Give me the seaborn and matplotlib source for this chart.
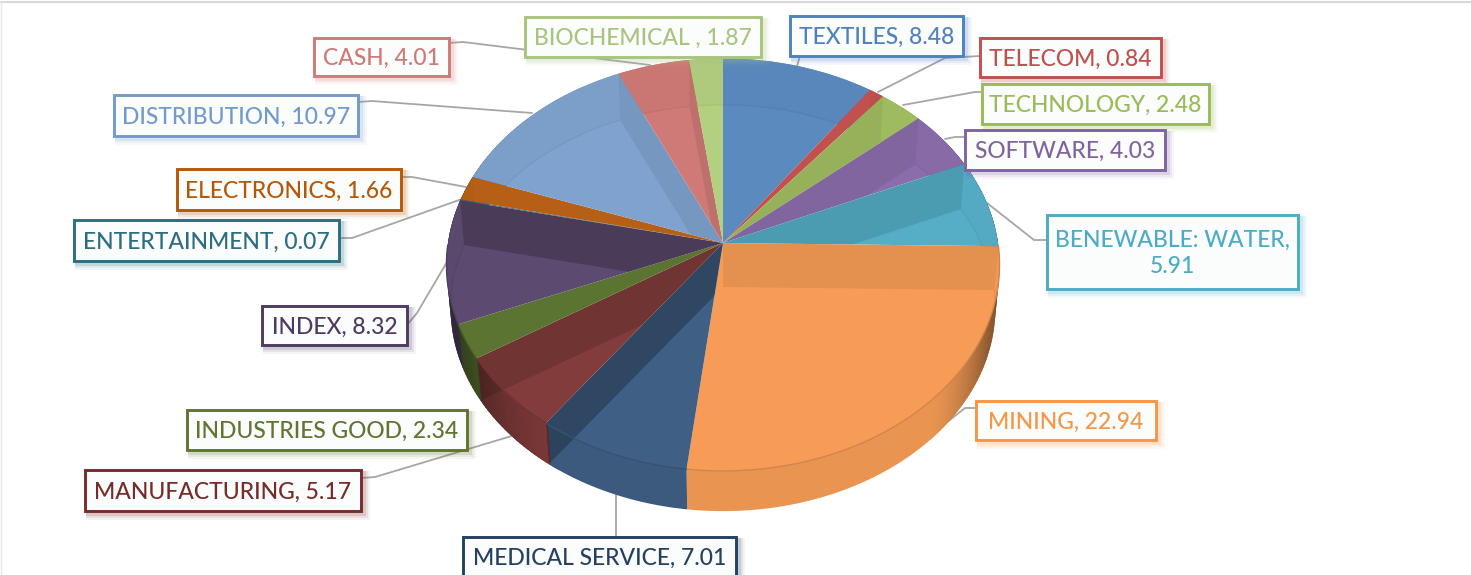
import numpy as np
import matplotlib
matplotlib.use('Agg')
from matplotlib import pyplot as plt
from matplotlib import transforms as mtrans
from matplotlib.patches import Rectangle
import seaborn as sns

# data, clockwise from 12 o'clock
sectors = ['TEXTILES', 'TELECOM', 'TECHNOLOGY', 'SOFTWARE', 'BENEWABLE: WATER',
           'MINING', 'MEDICAL SERVICE', 'MANUFACTURING', 'INDUSTRIES GOOD', 'INDEX',
           'ENTERTAINMENT', 'ELECTRONICS', 'DISTRIBUTION', 'CASH', 'BIOCHEMICAL ']
shares = [8.48, 0.84, 2.48, 4.03, 5.91, 22.94, 7.01, 5.17, 2.34, 8.32, 0.07, 1.66, 10.97, 4.01, 1.87]
face_colors = ['#5b8abf', '#c2504f', '#a3bf62', '#8a6daa', '#55aec6', '#f69c56', '#3f5f85', '#813c3b',
               '#5b7431', '#5d4a70', '#2b6c7e', '#b65f17', '#7fa3ce', '#cf7a77', '#b3cf80']
text_colors = ['#4f81bd', '#c0504d', '#9bbb59', '#8064a2', '#4bacc6', '#f79646', '#254061', '#772c2a',
               '#5f7530', '#4d3b62', '#2c6e80', '#b65708', '#729aca', '#d07a78', '#a9c47f']
# how dark the inner wall looks through each slice
wall_alpha = [0.03, 0.0, 0.07, 0.07, 0.1, 0.07, 0.25, 0.13, 0.0, 0.2, 0.0, 0.0, 0.07, 0.08, 0.0]

# label boxes in pixels (left, top, right, bottom)
boxes = [(790, 16, 963, 56), (980, 38, 1161, 77), (982, 84, 1209, 124), (965, 130, 1165, 170),
         (1047, 215, 1298, 289), (976, 401, 1156, 440), (463, 537, 736, 580), (85, 470, 361, 511),
         (187, 410, 467, 450), (262, 306, 407, 345), (74, 220, 339, 261), (177, 169, 401, 210),
         (114, 95, 358, 136), (314, 38, 449, 76), (525, 17, 761, 57)]
# leader lines, None where no line shows
leaders = [[(800, 56), (797, 66)], [(980, 56), (945, 58), (878, 92)], [(982, 92), (975, 92), (903, 105)],
           [(965, 137), (955, 137), (945, 139)], [(1047, 240), (1034, 240), (987, 203)],
           [(976, 408), (965, 408), (912, 450)], [(616, 537), (616, 495)],
           [(361, 478), (375, 477), (515, 435)], None, [(407, 325), (417, 313), (447, 262)],
           [(339, 238), (352, 238), (462, 199)], [(401, 177), (412, 177), (466, 187)],
           [(358, 102), (372, 101), (532, 113)], [(449, 43), (463, 42), (650, 65)], None]

cx, cy = 723, 243   # apex of the pie
rx, ry = 275, 204
k = 0.105           # perspective
depth = 44


class Tilt(mtrans.Transform):
    input_dims = 2
    output_dims = 2

    def transform_non_affine(self, xy):
        xy = np.asarray(xy, dtype=float)
        u, v = xy[:, 0], xy[:, 1]
        d = 1 + k * v
        return np.column_stack([cx + rx * u / d, cy - ry * v / d])


tilt = Tilt()


def rim(t, bottom=False):
    t = np.radians(np.atleast_1d(t))
    s = 0.985 if bottom else 1.0
    pts = tilt.transform_non_affine(np.column_stack([s * np.cos(t), s * np.sin(t)]))
    if bottom:
        pts[:, 1] += depth
    return pts


def edge_shade(t):
    c = abs(np.cos(np.radians(t)))
    lim = 0.7 if np.cos(np.radians(t)) > 0 else 0.55
    return 0.95 * (1 - 0.55 * max(0.0, (c - lim) / (1 - lim)) ** 1.5)


sns.set_theme(style='white')
plt.rcParams['font.family'] = ['Lato', 'DejaVu Sans']

fig = plt.figure(figsize=(14.71, 5.75), dpi=100, facecolor='white')
ax = fig.add_axes([0, 0, 1, 1])
wedges, _ = ax.pie(shares, colors=face_colors, startangle=90, counterclock=False)
ax.set_aspect('auto')
ax.set_xlim(0, 1471)
ax.set_ylim(575, 0)
ax.axis('off')

for w in wedges:
    w.set_transform(tilt + ax.transData)
    w.set_zorder(2)
    w.set_linewidth(0)

# picture frame
ax.plot([0, 1471], [2, 2], color='#d9d9d9', lw=1.5, zorder=0)
ax.plot([0.5, 0.5], [2, 575], color='#e6e6e6', lw=1, zorder=0)

for w, col, wa in zip(wedges, face_colors, wall_alpha):
    rgb = np.array(matplotlib.colors.to_rgb(col))
    t_all = np.linspace(w.theta1, w.theta2, max(3, int(w.theta2 - w.theta1) + 2))
    band = np.vstack([rim(t_all), rim(t_all, True)[::-1]])

    # outer wall: one flat piece, then short pieces that darken towards the sides
    base = ax.fill(band[:, 0], band[:, 1], color=rgb * 0.95, lw=0, zorder=1)[0]
    for t0, t1 in zip(t_all[:-1], t_all[1:]):
        s = edge_shade((t0 + t1) / 2)
        if s < 0.949:
            tt = np.array([t0, t1 + 0.5])
            poly = np.vstack([rim(tt), rim(tt, True)[::-1]])
            ax.fill(poly[:, 0], poly[:, 1], color=rgb * s, lw=0, zorder=1.1)

    # the pie is see-through: band behind the back rim
    p = ax.fill(band[:, 0], band[:, 1], color='black', alpha=0.02, lw=0, zorder=3)[0]
    p.set_clip_path(w)
    line = rim(t_all, True)
    p = ax.plot(line[:, 0], line[:, 1], color='black', alpha=0.05, lw=1, zorder=3)[0]
    p.set_clip_path(w)

    # radial inner wall, seen on the upper side of the slice
    mid = 90 - (w.theta1 + w.theta2) / 2
    edge = w.theta2 if mid % 360 < 180 else w.theta1
    top, bot = rim(edge)[0], rim(edge, True)[0]
    quad = np.array([[cx, cy], top, bot, [cx, cy + depth]])
    if wa > 0:
        p = ax.fill(quad[:, 0], quad[:, 1], color='black', alpha=wa, lw=0, zorder=3)[0]
        p.set_clip_path(w)
        q = ax.fill(quad[:, 0], quad[:, 1], color='black', alpha=wa, lw=0, zorder=1.5)[0]
        q.set_clip_path(base)

    # darker front rim
    is_front = np.sin(np.radians(t_all)) < 0
    if is_front.sum() > 1:
        front = rim(t_all[is_front])
        ax.plot(front[:, 0], front[:, 1], color=rgb * 0.85, lw=1, zorder=3.5)

# leader lines
for pts in leaders:
    if pts is None:
        continue
    xs, ys = zip(*pts)
    ax.plot(xs, ys, color='#a6a6a6', lw=1.3, zorder=0.5, solid_joinstyle='round')

# labels
for name, val, col, (x0, y0, x1, y1) in zip(sectors, shares, text_colors, boxes):
    for off, a in [(8, 0.06), (6, 0.09), (4, 0.14)]:
        ax.add_patch(Rectangle((x0 + 1, y0 + 1), x1 - x0 + off, y1 - y0 + off, facecolor=col,
                               alpha=a, lw=0, zorder=4))
    ax.add_patch(Rectangle((x0, y0), x1 - x0, y1 - y0, facecolor='#fbfcfc', edgecolor=col, lw=2.1, zorder=5))
    label = f'{name}, {val:.2f}'
    if name.startswith('BENEWABLE'):
        label = f'{name},\n{val:.2f}'
    ym = 558 if name.startswith('MEDICAL') else (y0 + y1) / 2 + 1.5
    ax.text((x0 + x1) / 2, ym, label, color=col, fontsize=16.5, fontweight='medium', ha='center',
            va='center', linespacing=1.3, zorder=6)

fig.savefig('out.png', dpi=100)
